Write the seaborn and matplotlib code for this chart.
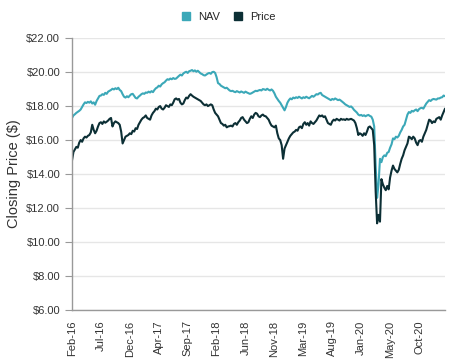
import numpy as np
import pandas as pd
import matplotlib
matplotlib.use("Agg")
import matplotlib.pyplot as plt
from matplotlib.lines import Line2D
import seaborn as sns

# weekly closing values, Feb 2016 -> Dec 2020
nav = [
    17.30, 17.45, 17.52, 17.60, 17.66, 17.72, 17.80, 17.95, 18.10, 18.22,
    18.18, 18.25, 18.20, 18.28, 18.15, 18.22, 18.08, 18.30, 18.45, 18.60,
    18.62, 18.70, 18.66, 18.78, 18.72, 18.85, 18.90, 18.95, 19.02, 18.98,
    19.05, 19.00, 19.08, 18.95, 18.88, 18.70, 18.55, 18.50, 18.58, 18.52,
    18.62, 18.70, 18.72, 18.60, 18.48, 18.45, 18.55, 18.62, 18.70, 18.75,
    18.72, 18.80, 18.78, 18.85, 18.80, 18.88, 18.82, 18.95, 19.05, 19.10,
    19.20, 19.15, 19.28, 19.35, 19.40, 19.50, 19.58, 19.55, 19.62, 19.58,
    19.65, 19.60, 19.62, 19.70, 19.78, 19.85, 19.80, 19.92, 19.98, 20.02,
    19.95, 20.05, 20.08, 20.12, 20.05, 20.10, 20.02, 20.08, 20.00, 19.92,
    19.88, 19.82, 19.80, 19.86, 19.92, 19.95, 19.90, 20.00, 20.02, 19.95,
    19.70, 19.35, 19.30, 19.20, 19.15, 19.10, 19.05, 19.08, 19.00, 18.92,
    18.88, 18.90, 18.85, 18.82, 18.88, 18.84, 18.80, 18.86, 18.82, 18.78,
    18.85, 18.80, 18.76, 18.72, 18.75, 18.80, 18.85, 18.90, 18.88, 18.92,
    18.95, 18.92, 19.00, 18.98, 18.95, 19.02, 18.96, 18.92, 18.98, 18.90,
    18.75, 18.55, 18.42, 18.30, 18.20, 18.05, 17.90, 17.75, 17.95, 18.20,
    18.35, 18.45, 18.40, 18.50, 18.46, 18.52, 18.48, 18.55, 18.50, 18.45,
    18.52, 18.48, 18.55, 18.50, 18.46, 18.53, 18.60, 18.55, 18.62, 18.70,
    18.68, 18.75, 18.78, 18.65, 18.60, 18.55, 18.50, 18.45, 18.40, 18.35,
    18.42, 18.38, 18.45, 18.40, 18.35, 18.38, 18.32, 18.25, 18.18, 18.10,
    18.05, 18.00, 17.95, 17.98, 17.90, 17.78, 17.70, 17.62, 17.50, 17.45,
    17.48, 17.42, 17.46, 17.40, 17.45, 17.48, 17.42, 17.38, 17.20, 16.80,
    14.50, 12.60, 13.40, 14.90, 14.70, 15.00, 15.10, 15.05, 15.25, 15.30,
    15.55, 15.75, 16.10, 16.05, 16.20, 16.15, 16.25, 16.45, 16.60, 16.80,
    16.90, 17.20, 17.50, 17.65, 17.60, 17.72, 17.68, 17.75, 17.80, 17.70,
    17.82, 17.88, 17.90, 17.85, 18.00, 18.15, 18.25, 18.35, 18.30, 18.38,
    18.42, 18.40, 18.38, 18.45, 18.45, 18.50, 18.52, 18.62, 18.58,
]
price = [
    14.80, 15.30, 15.45, 15.60, 15.55, 15.85, 16.00, 15.90, 16.10, 16.20,
    16.15, 16.25, 16.30, 16.45, 16.90, 16.60, 16.40, 16.55, 16.80, 17.00,
    17.05, 16.95, 17.10, 17.02, 17.08, 17.15, 17.25, 17.30, 16.80, 17.00,
    17.10, 17.05, 17.00, 16.90, 16.50, 15.80, 16.00, 16.20, 16.25, 16.30,
    16.40, 16.35, 16.55, 16.50, 16.70, 16.65, 16.90, 17.05, 17.20, 17.30,
    17.35, 17.45, 17.30, 17.25, 17.20, 17.45, 17.60, 17.70, 17.85, 17.80,
    17.95, 18.00, 17.85, 17.80, 17.90, 18.05, 18.00, 17.95, 18.10, 18.05,
    18.20, 18.40, 18.45, 18.38, 18.42, 18.20, 18.10, 18.15, 18.35, 18.50,
    18.45, 18.60, 18.70, 18.62, 18.55, 18.50, 18.45, 18.40, 18.35, 18.30,
    18.20, 18.10, 18.05, 18.10, 18.00, 18.05, 18.10, 18.05, 17.80, 17.60,
    17.50, 17.40, 17.20, 17.00, 16.95, 16.85, 16.90, 16.75, 16.80, 16.82,
    16.85, 16.80, 16.95, 17.00, 16.90, 17.05, 17.15, 17.30, 17.35, 17.20,
    17.10, 17.00, 17.05, 17.25, 17.40, 17.30, 17.50, 17.60, 17.55, 17.40,
    17.35, 17.45, 17.50, 17.42, 17.40, 17.30, 17.20, 17.00, 16.85, 16.80,
    16.75, 16.85, 16.40, 16.10, 16.00, 15.70, 14.90, 15.50, 15.70, 15.90,
    16.10, 16.25, 16.35, 16.45, 16.50, 16.60, 16.55, 16.75, 16.80, 16.70,
    16.95, 17.05, 16.90, 17.00, 16.85, 17.10, 17.00, 16.95, 17.05, 17.15,
    17.30, 17.45, 17.40, 17.45, 17.35, 17.40, 17.20, 17.00, 16.95, 16.90,
    17.10, 17.20, 17.15, 17.25, 17.20, 17.15, 17.25, 17.20, 17.22, 17.18,
    17.25, 17.20, 17.22, 17.25, 17.20, 17.15, 17.00, 16.70, 16.30, 16.40,
    16.35, 16.25, 16.40, 16.30, 16.50, 16.75, 16.80, 16.70, 16.60, 15.70,
    13.00, 11.10, 11.60, 11.20, 13.70, 13.40, 13.20, 13.05, 13.30, 13.10,
    13.80, 14.20, 14.50, 14.30, 14.20, 14.10, 14.25, 14.60, 14.90, 15.10,
    15.40, 15.60, 15.80, 16.20, 16.15, 16.05, 16.20, 16.10, 15.85, 15.70,
    15.95, 16.00, 15.90, 16.20, 16.40, 16.60, 16.90, 17.20, 17.15, 17.00,
    17.10, 17.05, 17.25, 17.30, 17.35, 17.20, 17.45, 17.65, 17.85,
]
tick_labels = ["Feb-16", "Jul-16", "Dec-16", "Apr-17", "Sep-17", "Feb-18", "Jun-18",
               "Nov-18", "Mar-19", "Aug-19", "Jan-20", "May-20", "Oct-20"]
series = ["NAV", "Price"]
colors = {"NAV": "#3ba8b8", "Price": "#0c2f35"}

n = len(nav)
df = pd.DataFrame({
    "week": list(range(n)) * 2,
    "value": nav + price,
    "series": ["NAV"] * n + ["Price"] * len(price),
})

sns.set_style("white")
plt.rcParams["font.family"] = ["Liberation Sans", "DejaVu Sans"]

fig = plt.figure(figsize=(4.5, 3.63), dpi=100)
ax = fig.add_axes([0.16, 0.146, 0.829, 0.749])

sns.lineplot(data=df, x="week", y="value", hue="series", palette=colors,
             linewidth=1.5, legend=False, ax=ax)

ax.set_xlim(0, n - 1)
ax.set_ylim(6, 22)
ax.set_yticks(np.arange(6, 23, 2))
ax.set_yticklabels([f"${v:.2f}" for v in np.arange(6, 23, 2)], fontsize=8, color="#333333")
ax.yaxis.grid(True, color="#e6e6e6", linewidth=1)
ax.set_axisbelow(True)

ax.set_xticks(np.arange(0, 20 * len(tick_labels), 20))
ax.set_xticklabels(tick_labels, rotation=90, fontsize=8, color="#333333")
ax.set_xticks(np.arange(n), minor=True)
ax.tick_params(axis="x", which="both", length=4, color="#999999", width=0.6)
ax.tick_params(axis="y", length=5, color="#999999", width=0.8, left=True)

ax.set_xlabel("")
ax.set_ylabel("Closing Price ($)", fontsize=10.5, color="#333333")

for side in ["top", "right"]:
    ax.spines[side].set_visible(False)
for side in ["left", "bottom"]:
    ax.spines[side].set_color("#999999")
    ax.spines[side].set_linewidth(1)

handles = [Line2D([], [], marker="s", linestyle="", markersize=6, color=colors[s]) for s in series]
fig.legend(handles, series, loc="upper center", bbox_to_anchor=(0.5, 0.995), ncol=2,
           frameon=False, fontsize=8, handletextpad=0.1, columnspacing=0.6)

fig.savefig("out.png", dpi=100)
